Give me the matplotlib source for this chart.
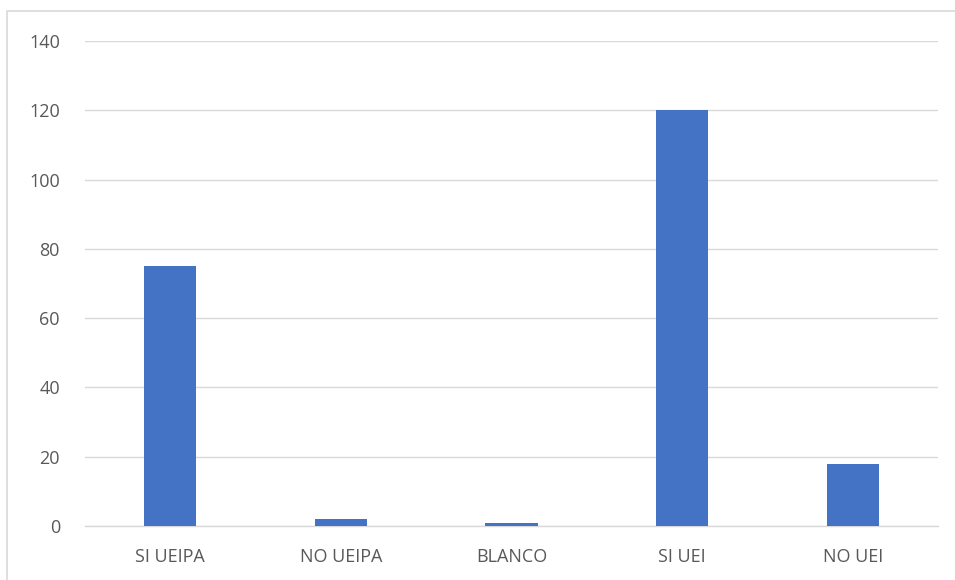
import matplotlib.pyplot as plt
from matplotlib.patches import Rectangle

categories = ['SI UEIPA', 'NO UEIPA', 'BLANCO', 'SI UEI', 'NO UEI']
values = [75, 2, 1, 120, 18]
yticks = [0, 20, 40, 60, 80, 100, 120, 140]

plt.rcParams['font.family'] = ['Open Sans', 'DejaVu Sans']

fig = plt.figure(figsize=(9.55, 5.8), dpi=100)
ax = fig.add_axes([85 / 955, 1 - 526 / 580, 853 / 955, 485 / 580])

ax.bar(categories, values, width=0.305, color='#4472C4', zorder=3)

ax.set_xlim(-0.5, len(categories) - 0.5)
ax.set_ylim(0, 140)
ax.set_yticks(yticks)
ax.grid(axis='y', color='#d9d9d9', linewidth=1.0, zorder=0)
ax.tick_params(axis='both', length=0, labelsize=13, colors='#595959')
ax.tick_params(axis='x', pad=16)
ax.tick_params(axis='y', pad=18)
for side in ['top', 'right', 'left']:
    ax.spines[side].set_visible(False)
ax.spines['bottom'].set_color('#d9d9d9')
ax.spines['bottom'].set_linewidth(1.0)

# chart frame
fig.patches.append(Rectangle((7 / 955, -0.1), 1.0, 1.1 - 11 / 580,
                             transform=fig.transFigure, fill=False,
                             edgecolor='#d9d9d9', linewidth=1.2))

fig.savefig('out.png', dpi=100)
